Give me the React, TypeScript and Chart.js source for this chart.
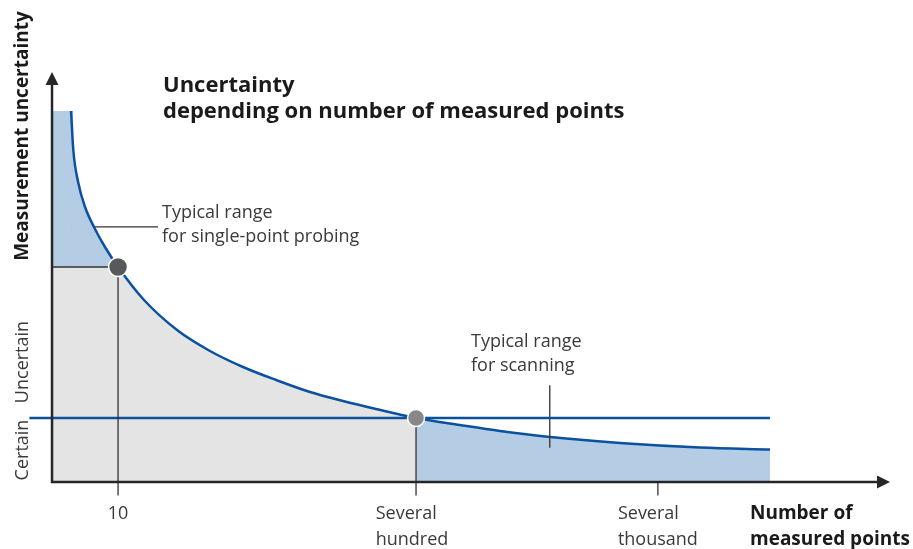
import React, { useEffect, useRef } from "react";
import { Chart, registerables } from "chart.js";

Chart.register(...registerables);

// Qualitative units: x = number of measured points (0..100), y = measurement uncertainty (0..100)
const curveX = [2.27, 2.54, 3.14, 3.94, 5.13, 6.32, 7.88, 10.98, 14.92, 18.85, 22.79, 26.73, 30.79, 34.73, 38.66, 43.44, 48.69, 53.46, 59.43, 67.78, 77.33, 85.68];
const curveY = [90.05, 80.58, 72.57, 66.75, 61.41, 57.04, 52.18, 44.17, 36.89, 31.8, 27.91, 24.76, 21.84, 19.66, 17.72, 15.53, 13.83, 12.38, 10.92, 9.47, 8.37, 7.89];

const markerX = [7.88, 43.44];
const markerY = [52.18, 15.53];
const markerColors = ["#58595b", "#87888a"];
const markerRadius = [9.5, 8.5];

const thresholdX = [-2.7, 85.68];
const thresholdY = 15.53;

const tickX = [7.88, 43.44, 72.3];
const tickTop = [52.18, 15.53, 0];
const tickBottom = -3.3;
const tickLabels = [["10"], ["Several", "hundred"], ["Several", "thousand"]];

const probingLeaderX = [2.27, 12.65];
const probingLeaderY = 61.9;
const scanningLeaderX = 59.4;
const scanningLeaderY = [23.5, 8.3];

const probingLabel = ["Typical range", "for single-point probing"];
const scanningLabel = ["Typical range", "for scanning"];
const titleLines = ["Uncertainty", "depending on number of measured points"];
const xTitle = ["Number of", "measured points"];
const yTitle = "Measurement uncertainty";
const yBands = ["Uncertain", "Certain"];

const BLUE = "#0a52a0";
const LIGHT_BLUE = "#b4cce4";
const GRAY_FILL = "#e4e4e4";
const AXIS = "#262626";
const DARK = "#333333";
const TEXT = "#3a3a3a";
const FONT = "'Open Sans', 'DejaVu Sans', sans-serif";

const pts = (xs: number[], ys: number[]) => xs.map((v, i) => ({ x: v, y: ys[i] }));

const decor = {
  id: "decor",
  afterDatasetsDraw(chart: any) {
    const { ctx, chartArea } = chart;
    const xs = chart.scales.x;
    const ys = chart.scales.y;
    const x0 = xs.getPixelForValue(0);
    const y0 = ys.getPixelForValue(0);
    ctx.save();
    ctx.strokeStyle = AXIS;
    ctx.fillStyle = AXIS;
    ctx.lineWidth = 2.5;
    ctx.lineCap = "butt";
    const topTip = chartArea.top + 2;
    const rightTip = chartArea.right;
    ctx.beginPath();
    ctx.moveTo(x0, y0 + 1.2);
    ctx.lineTo(x0, topTip + 10);
    ctx.moveTo(x0 - 1.2, y0);
    ctx.lineTo(rightTip - 10, y0);
    ctx.stroke();
    ctx.beginPath();
    ctx.moveTo(x0, topTip);
    ctx.lineTo(x0 - 6.5, topTip + 13);
    ctx.lineTo(x0 + 6.5, topTip + 13);
    ctx.closePath();
    ctx.fill();
    ctx.beginPath();
    ctx.moveTo(rightTip, y0);
    ctx.lineTo(rightTip - 13, y0 - 6.5);
    ctx.lineTo(rightTip - 13, y0 + 6.5);
    ctx.closePath();
    ctx.fill();
    ctx.restore();
  },
  afterDraw(chart: any) {
    const { ctx } = chart;
    const xs = chart.scales.x;
    const ys = chart.scales.y;
    ctx.save();
    ctx.textBaseline = "alphabetic";
    // title
    ctx.fillStyle = "#1a1a1a";
    ctx.font = `bold 22px ${FONT}`;
    ctx.textAlign = "left";
    ctx.fillText(titleLines[0], 163, 92);
    ctx.fillText(titleLines[1], 163, 118);
    // annotations
    ctx.fillStyle = TEXT;
    ctx.font = `18px ${FONT}`;
    ctx.fillText(probingLabel[0], 162, 218);
    ctx.fillText(probingLabel[1], 162, 242);
    ctx.fillText(scanningLabel[0], 471, 347);
    ctx.fillText(scanningLabel[1], 471, 371);
    // x tick labels
    tickLabels.forEach((lines, i) => {
      const px = xs.getPixelForValue(tickX[i]);
      const w = Math.max(...lines.map((l) => ctx.measureText(l).width));
      const shift = lines.length > 1 && i === 1 ? -4 : 0;
      lines.forEach((l, j) => {
        ctx.fillText(l, px - w / 2 + shift, 519 + j * 26);
      });
    });
    // x title
    ctx.fillStyle = "#1a1a1a";
    ctx.font = `bold 19px ${FONT}`;
    ctx.fillText(xTitle[0], 750, 519);
    ctx.fillText(xTitle[1], 750, 545);
    // y title
    ctx.textAlign = "center";
    ctx.save();
    ctx.translate(28, 136);
    ctx.rotate(-Math.PI / 2);
    ctx.fillText(yTitle, 0, 0);
    ctx.restore();
    // y bands
    const yT = ys.getPixelForValue(thresholdY);
    const y0 = ys.getPixelForValue(0);
    ctx.fillStyle = TEXT;
    ctx.font = `18px ${FONT}`;
    ctx.save();
    ctx.translate(28, yT - 56);
    ctx.rotate(-Math.PI / 2);
    ctx.fillText(yBands[0], 0, 0);
    ctx.restore();
    ctx.save();
    ctx.translate(28, (yT + y0) / 2);
    ctx.rotate(-Math.PI / 2);
    ctx.fillText(yBands[1], 0, 0);
    ctx.restore();
    ctx.restore();
  },
};

export default function App() {
  const ref = useRef<HTMLCanvasElement>(null);
  useEffect(() => {
    const probeX = markerX[0];
    const hundredX = markerX[1];
    const lineStyle = (data: any[]) => ({
      data,
      borderColor: DARK,
      borderWidth: 1.3,
      pointRadius: 0,
      fill: false,
      clip: false as any,
    });
    const chart = new Chart(ref.current!, {
      type: "line",
      data: {
        datasets: [
          {
            data: pts(markerX, markerY),
            showLine: false,
            pointRadius: markerRadius,
            pointBackgroundColor: markerColors,
            pointBorderColor: "#ffffff",
            pointBorderWidth: 1.5,
            clip: false as any,
          },
          ...tickX.map((tx, i) => lineStyle([{ x: tx, y: tickTop[i] }, { x: tx, y: tickBottom }])),
          {
            data: pts(thresholdX, [thresholdY, thresholdY]),
            borderColor: BLUE,
            borderWidth: 2.5,
            pointRadius: 0,
            fill: false,
            clip: false as any,
          },
          lineStyle([{ x: scanningLeaderX, y: scanningLeaderY[0] }, { x: scanningLeaderX, y: scanningLeaderY[1] }]),
          {
            data: [{ x: 0, y: markerY[0] }, { x: probeX, y: markerY[0] }],
            borderColor: DARK,
            borderWidth: 1.3,
            pointRadius: 0,
            fill: "origin",
            backgroundColor: GRAY_FILL,
          },
          {
            data: pts(curveX, curveY),
            borderColor: BLUE,
            borderWidth: 2.5,
            pointRadius: 0,
            cubicInterpolationMode: "monotone",
            fill: "origin",
            backgroundColor: LIGHT_BLUE,
            segment: {
              backgroundColor: (c: any) =>
                c.p0.parsed.x >= probeX - 1e-6 && c.p1.parsed.x <= hundredX + 1e-6 ? GRAY_FILL : LIGHT_BLUE,
            },
          },
          lineStyle(pts(probingLeaderX, [probingLeaderY, probingLeaderY])),
          {
            // top-left band, overlapping the curve's own fill slightly to avoid a seam
            data: [{ x: 0, y: curveY[0] }, { x: curveX[1], y: curveY[0] }],
            borderWidth: 0,
            pointRadius: 0,
            fill: "origin",
            backgroundColor: LIGHT_BLUE,
          },
        ] as any,
      },
      options: {
        animation: false,
        responsive: true,
        maintainAspectRatio: false,
        layout: { padding: { left: 18.5, right: 23, top: 70, bottom: 67 } },
        plugins: { legend: { display: false }, tooltip: { enabled: false } },
        scales: {
          x: { type: "linear", display: false, min: -4, max: 100 },
          y: { type: "linear", display: false, min: 0, max: 100 },
        },
      } as any,
      plugins: [decor],
    });
    return () => chart.destroy();
  }, []);
  return (
    <div style={{ position: "fixed", left: 0, top: 0, width: 913, height: 549, background: "#ffffff" }}>
      <canvas ref={ref} />
    </div>
  );
}
